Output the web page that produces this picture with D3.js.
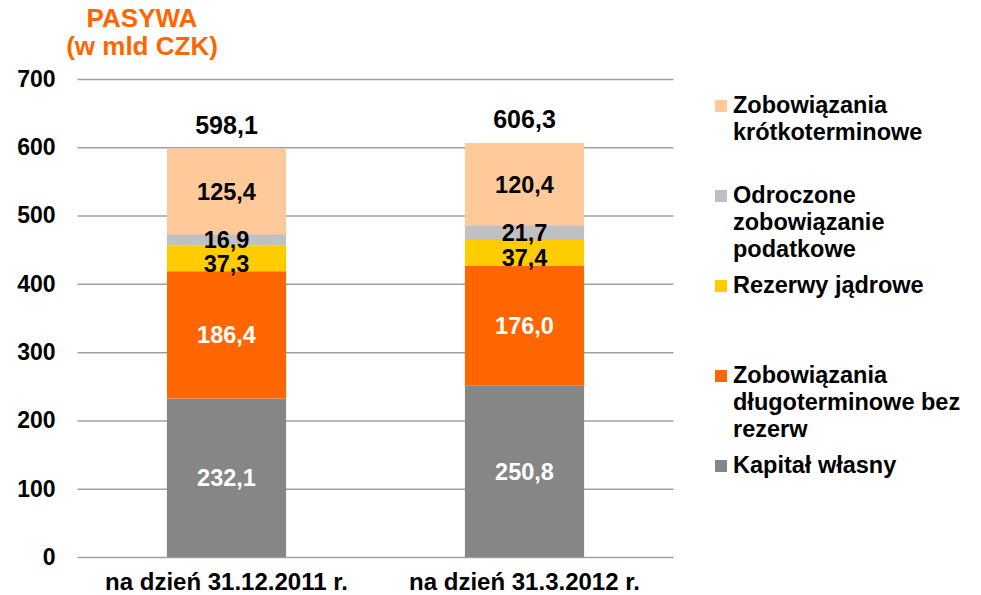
<!DOCTYPE html>
<html>
<head>
<meta charset="utf-8">
<script src="https://cdn.jsdelivr.net/npm/d3@7"></script>
<style>
  body { margin: 0; background: #fff; }
  text { font-family: "Liberation Sans", Arial, sans-serif; font-weight: bold; }
</style>
</head>
<body>
<div id="vis"></div>
<script>
// frame
const FRAME_WIDTH = 981;
const FRAME_HEIGHT = 595;
const MARGINS = {left: 77.5, right: 307.5, top: 79, bottom: 38};

// data
const CATEGORIES = ["na dzień 31.12.2011 r.", "na dzień 31.3.2012 r."];
const SERIES = ["Kapitał własny", "Zobowiązania długoterminowe bez rezerw", "Rezerwy jądrowe",
                "Odroczone zobowiązanie podatkowe", "Zobowiązania krótkoterminowe"];
const KAPITAL = [232.1, 250.8];
const DLUGO = [186.4, 176.0];
const REZERWY = [37.3, 37.4];
const ODROCZONE = [16.9, 21.7];
const KROTKO = [125.4, 120.4];
const TOTALS = [598.1, 606.3];
const Y_TICKS = [0, 100, 200, 300, 400, 500, 600, 700];

const COLORS = ["#868686", "#FF6600", "#FFCC00", "#C0C0C0", "#FFC999"];
const LABEL_COLORS = ["#fff", "#fff", "#000", "#000", "#000"];

// legend lines, top to bottom
const LEGEND = [
  {series: 4, lines: ["Zobowiązania", "krótkoterminowe"], y: 113},
  {series: 3, lines: ["Odroczone", "zobowiązanie", "podatkowe"], y: 203},
  {series: 2, lines: ["Rezerwy jądrowe"], y: 293},
  {series: 1, lines: ["Zobowiązania", "długoterminowe bez", "rezerw"], y: 383},
  {series: 0, lines: ["Kapitał własny"], y: 473}
];

const VIS_WIDTH = FRAME_WIDTH - MARGINS.left - MARGINS.right;
const VIS_HEIGHT = FRAME_HEIGHT - MARGINS.top - MARGINS.bottom;

const FRAME = d3.select("#vis")
  .append("svg")
    .attr("width", FRAME_WIDTH)
    .attr("height", FRAME_HEIGHT);

// rows for the stack
const rows = CATEGORIES.map((c, i) => ({
  cat: c, s0: KAPITAL[i], s1: DLUGO[i], s2: REZERWY[i], s3: ODROCZONE[i], s4: KROTKO[i]
}));
const stack = d3.stack().keys(["s0", "s1", "s2", "s3", "s4"])(rows);

const X_SCALE = d3.scaleBand()
  .domain(CATEGORIES)
  .range([0, VIS_WIDTH])
  .paddingInner(0.6)
  .paddingOuter(0.3);

const Y_SCALE = d3.scaleLinear()
  .domain([0, 700])
  .range([VIS_HEIGHT, 0]);

const g = FRAME.append("g")
  .attr("transform", "translate(" + MARGINS.left + "," + MARGINS.top + ")");

// gridlines
g.selectAll(".grid")
  .data(Y_TICKS)
  .enter()
  .append("line")
    .attr("x1", 0)
    .attr("x2", VIS_WIDTH)
    .attr("y1", d => Y_SCALE(d) + 0.5)
    .attr("y2", d => Y_SCALE(d) + 0.5)
    .attr("stroke", "#A0A0A0")
    .attr("stroke-width", 1.5);

// y axis labels
const yAxis = g.append("g")
  .call(d3.axisLeft(Y_SCALE).tickValues(Y_TICKS).tickSize(0).tickPadding(22))
  .attr("font-size", "23px");
yAxis.select(".domain").remove();
yAxis.selectAll("text").attr("fill", "#000")
  .style("font-family", "'Liberation Sans', Arial, sans-serif").style("font-weight", "bold");

// bars
stack.forEach((layer, si) => {
  g.selectAll(".bar" + si)
    .data(layer)
    .enter()
    .append("rect")
      .attr("x", d => X_SCALE(d.data.cat))
      .attr("width", X_SCALE.bandwidth())
      .attr("y", d => Y_SCALE(d[1]))
      .attr("height", d => Y_SCALE(d[0]) - Y_SCALE(d[1]))
      .attr("fill", COLORS[si]);
});

// segment labels
stack.forEach((layer, si) => {
  g.selectAll(".lbl" + si)
    .data(layer)
    .enter()
    .append("text")
      .attr("x", d => X_SCALE(d.data.cat) + X_SCALE.bandwidth() / 2)
      .attr("y", d => Y_SCALE((d[0] + d[1]) / 2) + (si === 2 ? 5 : 0))
      .attr("dy", "0.36em")
      .attr("text-anchor", "middle")
      .attr("font-size", "23.5px")
      .attr("fill", LABEL_COLORS[si])
      .text(d => d3.format(".1f")(d[1] - d[0]).replace(".", ","));
});

// totals
g.selectAll(".total")
  .data(TOTALS)
  .enter()
  .append("text")
    .attr("x", (d, i) => X_SCALE(CATEGORIES[i]) + X_SCALE.bandwidth() / 2)
    .attr("y", d => Y_SCALE(d) - 15)
    .attr("text-anchor", "middle")
    .attr("font-size", "25px")
    .attr("fill", "#000")
    .text(d => d3.format(".1f")(d).replace(".", ","));

// category labels
g.selectAll(".cat")
  .data(CATEGORIES)
  .enter()
  .append("text")
    .attr("x", d => X_SCALE(d) + X_SCALE.bandwidth() / 2)
    .attr("y", VIS_HEIGHT + 33)
    .attr("text-anchor", "middle")
    .attr("font-size", "24px")
    .attr("fill", "#000")
    .text(d => d);

// title
const title = FRAME.append("text")
  .attr("x", 142)
  .attr("y", 27)
  .attr("text-anchor", "middle")
  .attr("font-size", "26px")
  .attr("fill", "#FF6600");
title.append("tspan").attr("x", 142).text("PASYWA");
title.append("tspan").attr("x", 142).attr("dy", 28).text("(w mld CZK)");

// legend
const leg = FRAME.selectAll(".legend")
  .data(LEGEND)
  .enter()
  .append("g");
leg.append("rect")
  .attr("x", 715)
  .attr("y", d => d.y - 13)
  .attr("width", 12)
  .attr("height", 12)
  .attr("fill", d => COLORS[d.series]);
leg.append("text")
  .attr("font-size", "23.5px")
  .attr("fill", "#000")
  .each(function(d) {
    d3.select(this).selectAll("tspan")
      .data(d.lines)
      .enter()
      .append("tspan")
        .attr("x", 733)
        .attr("y", (l, i) => d.y + i * 27)
        .text(l => l);
  });
</script>
</body>
</html>
